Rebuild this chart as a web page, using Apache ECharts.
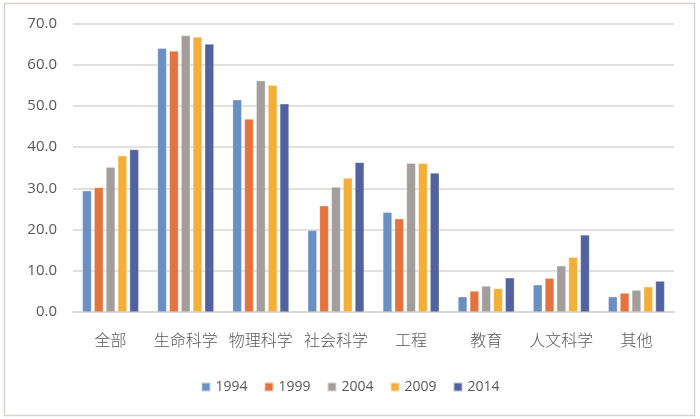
<!DOCTYPE html>
<html><head><meta charset="utf-8">
<script src="https://cdn.jsdelivr.net/npm/echarts@6/dist/echarts.min.js"></script>
<style>html,body{margin:0;padding:0;background:#fff}#c{width:700px;height:419px}</style>
</head><body><div id="c"></div>
<script>
const categories = ['全部','生命科学','物理科学','社会科学','工程','教育','人文科学','其他'];
const years = ['1994','1999','2004','2009','2014'];
const s1994 = [29.4, 64.0, 51.5, 19.8, 24.2, 3.7, 6.6, 3.7];
const s1999 = [30.2, 63.3, 46.8, 25.8, 22.6, 5.1, 8.2, 4.6];
const s2004 = [35.1, 67.1, 56.1, 30.3, 36.1, 6.3, 11.2, 5.3];
const s2009 = [37.9, 66.7, 55.0, 32.5, 36.1, 5.7, 13.3, 6.1];
const s2014 = [39.4, 65.0, 50.5, 36.3, 33.7, 8.3, 18.7, 7.5];
const yTicks = [0, 10, 20, 30, 40, 50, 60, 70];
const colors = ['#6a8fc2','#e5733f','#a39d9b','#f3af38','#52629f'];
const allSeries = [s1994, s1999, s2004, s2009, s2014];

const chart = echarts.init(document.getElementById('c'));
chart.setOption({
  animation: false,
  color: colors,
  graphic: [{type:'rect', shape:{x:4.5,y:3.5,width:690,height:412}, style:{fill:'none', stroke:'#d6d1cf', lineWidth:1.5}}],
  grid: {left: 73, right: 26, top: 23.5, bottom: 107},
  legend: {
    bottom: 20, left: 'center', itemWidth: 9, itemHeight: 9, itemGap: 16,
    icon: 'rect',
    textStyle: {fontFamily: 'Open Sans, Noto Sans CJK SC', fontSize: 14, color: '#595959'},
    data: years
  },
  xAxis: {
    type: 'category', data: categories,
    axisLine: {lineStyle: {color: '#d9d5d3', width: 1.5}},
    axisTick: {show: false},
    axisLabel: {interval: 0, fontFamily: 'Noto Sans CJK SC', fontSize: 16, fontWeight: 300, color: '#595959', margin: 20}
  },
  yAxis: {
    type: 'value', min: yTicks[0], max: yTicks[yTicks.length-1], interval: 10,
    axisLine: {show: false}, axisTick: {show: false},
    splitLine: {lineStyle: {color: '#d9d5d3', width: 1.5}},
    axisLabel: {fontFamily: 'Open Sans, Noto Sans CJK SC', fontSize: 15, color: '#595959', margin: 16,
      formatter: v => v.toFixed(1)}
  },
  series: years.map((y, i) => ({
    name: y, type: 'bar', data: allSeries[i],
    barGap: '30%', barCategoryGap: '25%',
    itemStyle: {borderColor: 'rgba(255,255,255,0.6)', borderWidth: 0.5}
  }))
});
</script></body></html>
